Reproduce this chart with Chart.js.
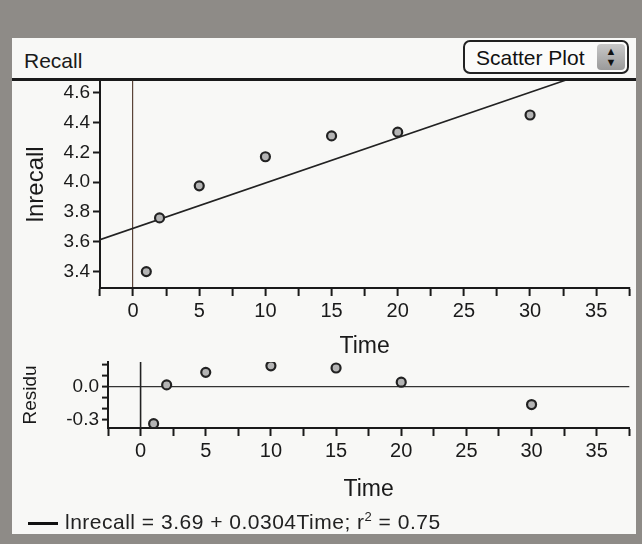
<!DOCTYPE html>
<html>
<head>
<meta charset="utf-8">
<script src="https://cdn.jsdelivr.net/npm/chart.js@4"></script>
<style>
  html, body { margin: 0; padding: 0; }
  body {
    width: 642px; height: 544px; overflow: hidden; position: relative;
    background: #8e8b87;
    font-family: "Liberation Sans", Arial, sans-serif;
  }
  #panel {
    position: absolute; left: 12px; top: 38px; width: 624px; height: 496px;
    background: #f8f8f6;
  }
  #header {
    position: absolute; left: 0; top: 0; width: 624px; height: 40px;
    border-bottom: 3px solid #1a1a1a;
  }
  #title { position: absolute; left: 12px; top: 11px; font-size: 21px; color: #1a1a1a; }
  #picker {
    position: absolute; left: 451px; top: 2px; width: 166px; height: 34px;
    border: 2px solid #222; border-radius: 7px; background: #fbfbfa;
    box-sizing: border-box;
  }
  #picker span { position: absolute; left: 11px; top: 4px; font-size: 21px; color: #111; }
  #spin {
    position: absolute; right: 2px; top: 2px; width: 28px; height: 26px;
    border-radius: 4px; background: linear-gradient(#c8c8c8, #9a9a9a);
    font-size: 11px; line-height: 11px; text-align: center; color: #111; padding-top: 2px;
    box-sizing: border-box;
  }
  canvas { position: absolute; }
  #main { left: 0; top: 36px; }
  #resid { left: 0; top: 317px; }
  #legend { position: absolute; left: 16px; top: 471px; font-size: 21px; letter-spacing: 0.5px; color: #222; }
  #legend i {
    display: inline-block; width: 30px; height: 3px; background: #111;
    vertical-align: middle; margin-right: 7px;
  }
</style>
</head>
<body>
<div id="panel">
  <div id="header">
    <div id="title">Recall</div>
    <div id="picker"><span>Scatter Plot</span><div id="spin">▲<br>▼</div></div>
  </div>
  <canvas id="main" width="624" height="286"></canvas>
  <canvas id="resid" width="624" height="150"></canvas>
  <div id="legend"><i></i>lnrecall = 3.69 + 0.0304Time; r<sup style="font-size:13px">2</sup> = 0.75</div>
</div>
<script>
// data
const times     = [1, 2, 5, 10, 15, 20, 30];
const lnRecall  = [3.40, 3.76, 3.975, 4.17, 4.31, 4.335, 4.45];
const residuals = [-0.34, 0.015, 0.13, 0.19, 0.17, 0.04, -0.165];

// least-squares line printed in the legend
const fitIntercept = 3.69;
const fitSlope     = 0.0304;

// tick positions and labels
const xTicks      = [-2.5, 0, 2.5, 5, 7.5, 10, 12.5, 15, 17.5, 20, 22.5, 25, 27.5, 30, 32.5, 35, 37.5];
const xLabelled   = [0, 5, 10, 15, 20, 25, 30, 35];
const yTicks      = [3.4, 3.6, 3.8, 4.0, 4.2, 4.4, 4.6];
const residTicks  = [-0.3, -0.2, -0.1, 0.0, 0.1, 0.2];
const residLabels = [-0.3, 0.0];

const X_MIN = -2.5, X_MAX = 37.5;
const INK = '#1a1a1a';
const FONT = 'Liberation Sans, Arial, sans-serif';

const same = (a, b) => Math.abs(a - b) < 1e-9;

/* fix an axis box size and drop the label overhang padding */
function fixBox(prop, size) {
  return s => {
    s[prop] = size;
    s.paddingTop = s.paddingBottom = s.paddingLeft = s.paddingRight = 0;
  };
}

/* x axis shared by both panels */
function timeAxis(height, titlePad) {
  return {
    type: 'linear', min: X_MIN, max: X_MAX,
    afterBuildTicks: s => { s.ticks = xTicks.map(v => ({ value: v })); },
    afterFit: fixBox('height', height),
    ticks: {
      color: INK, padding: 3, maxRotation: 0, autoSkip: false,
      font: { family: FONT, size: 20 },
      callback: v => xLabelled.some(l => same(l, v)) ? String(v) : '',
    },
    grid: {
      drawOnChartArea: true, drawTicks: true, tickLength: 8, tickWidth: 2, tickColor: INK,
      color: c => c.tick && same(c.tick.value, 0) ? '#5a4438' : 'rgba(0,0,0,0)',
      lineWidth: 1.2,
    },
    border: { display: true, color: INK, width: 2 },
    title: {
      display: true, text: 'Time', color: INK,
      font: { family: FONT, size: 23 }, padding: { top: 0, bottom: titlePad },
    },
  };
}

const pointStyle = {
  pointRadius: 4.5, pointBorderWidth: 2.2,
  pointBorderColor: '#222', pointBackgroundColor: '#b4b4b4',
  showLine: false, clip: 0,
};

new Chart(document.getElementById('main'), {
  type: 'scatter',
  data: {
    datasets: [
      { data: times.map((t, i) => ({ x: t, y: lnRecall[i] })), ...pointStyle },
      {
        type: 'line',
        data: [X_MIN, X_MAX].map(t => ({ x: t, y: fitIntercept + fitSlope * t })),
        borderColor: '#222', borderWidth: 1.6, pointRadius: 0, clip: 0,
      },
    ],
  },
  options: {
    responsive: false, animation: false,
    layout: { padding: { top: 1, right: 0, left: 0, bottom: 0 } },
    plugins: { legend: { display: false }, tooltip: { enabled: false } },
    scales: {
      x: timeAxis(72, 0),
      y: {
        type: 'linear', min: 3.29, max: 4.68,
        afterBuildTicks: s => { s.ticks = yTicks.map(v => ({ value: v })); },
        afterFit: fixBox('width', 88),
        ticks: {
          color: INK, padding: 3, autoSkip: false,
          font: { family: FONT, size: 19 }, callback: v => v.toFixed(1),
        },
        grid: { drawOnChartArea: false, tickLength: 7, tickWidth: 2, tickColor: INK },
        border: { display: true, color: INK, width: 2 },
        title: {
          display: true, text: 'lnrecall', color: INK,
          font: { family: FONT, size: 24 }, padding: { top: 10, bottom: 0 },
        },
      },
    },
  },
});

new Chart(document.getElementById('resid'), {
  type: 'scatter',
  data: {
    datasets: [{ data: times.map((t, i) => ({ x: t, y: residuals[i] })), ...pointStyle }],
  },
  options: {
    responsive: false, animation: false,
    layout: { padding: { top: 7, right: 0, left: 0, bottom: 0 } },
    plugins: { legend: { display: false }, tooltip: { enabled: false } },
    scales: {
      x: {
        ...timeAxis(77, 2),
        grid: { drawOnChartArea: false, drawTicks: true, tickLength: 8, tickWidth: 2, tickColor: INK },
      },
      y: {
        type: 'linear', min: -0.38, max: 0.225,
        afterBuildTicks: s => { s.ticks = residTicks.map(v => ({ value: v })); },
        afterFit: fixBox('width', 96),
        ticks: {
          color: INK, padding: 3, autoSkip: false, font: { family: FONT, size: 19 },
          callback: v => residLabels.some(l => same(l, v)) ? v.toFixed(1) : '',
        },
        grid: {
          drawOnChartArea: true, tickLength: 6, tickWidth: 2, tickColor: INK,
          color: c => c.tick && same(c.tick.value, 0) ? '#333' : 'rgba(0,0,0,0)', lineWidth: 1.2,
        },
        border: { display: true, color: INK, width: 2 },
        title: {
          display: true, text: 'Residu', color: INK,
          font: { family: FONT, size: 19 }, padding: { top: 7, bottom: 0 },
        },
      },
    },
  },
  plugins: [{
    // vertical reference line at Time = 0, drawn under the points
    id: 'zeroTime',
    beforeDatasetsDraw(chart) {
      const { ctx, chartArea: a, scales: { x } } = chart;
      const px = x.getPixelForValue(0);
      ctx.save();
      ctx.strokeStyle = '#222';
      ctx.lineWidth = 1.6;
      ctx.beginPath();
      ctx.moveTo(px, a.top);
      ctx.lineTo(px, a.bottom);
      ctx.stroke();
      ctx.restore();
    },
  }],
});
</script>
</body>
</html>
